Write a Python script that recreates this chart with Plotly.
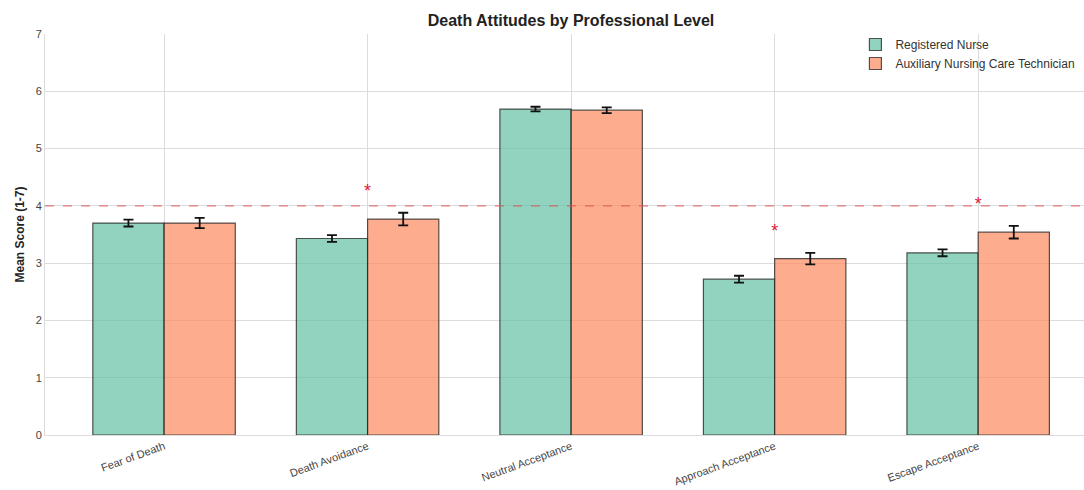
import plotly.graph_objects as go

categories = ["Fear of Death", "Death Avoidance", "Neutral Acceptance", "Approach Acceptance", "Escape Acceptance"]
rn_mean = [3.70, 3.43, 5.69, 2.72, 3.18]
rn_err = [0.06, 0.06, 0.04, 0.06, 0.06]
anct_mean = [3.70, 3.77, 5.67, 3.08, 3.54]
anct_err = [0.09, 0.11, 0.05, 0.10, 0.11]
significant = [False, True, False, True, True]
reference_level = 4
star_offset = 0.35

FONT = "Liberation Sans, Arial, sans-serif"

fig = go.Figure()
fig.add_trace(go.Bar(
    name="Registered Nurse", x=categories, y=rn_mean,
    marker=dict(color="rgba(102,194,165,0.72)", line=dict(color="rgba(30,30,30,0.75)", width=1.2)),
    error_y=dict(type="data", array=rn_err, color="#111", thickness=1.8, width=5),
))
fig.add_trace(go.Bar(
    name="Auxiliary Nursing Care Technician", x=categories, y=anct_mean,
    marker=dict(color="rgba(252,141,98,0.72)", line=dict(color="rgba(30,30,30,0.75)", width=1.2)),
    error_y=dict(type="data", array=anct_err, color="#111", thickness=1.8, width=5),
))

star_x, star_y = [], []
for c, s, m1, e1, m2, e2 in zip(categories, significant, rn_mean, rn_err, anct_mean, anct_err):
    if s:
        star_x.append(c)
        star_y.append(max(m1 + e1, m2 + e2) + star_offset)
fig.add_trace(go.Scatter(
    x=star_x, y=star_y, mode="text", text=["*"] * len(star_x),
    textfont=dict(color="#e0203a", size=18, family=FONT),
    textposition="middle center", showlegend=False, hoverinfo="skip",
))

fig.add_shape(type="line", xref="paper", x0=0, x1=1, y0=reference_level, y1=reference_level,
              line=dict(color="rgba(220,80,80,0.75)", width=1.3, dash="dash"))

fig.update_layout(
    width=1084, height=490,
    margin=dict(l=45, r=0, t=34, b=55),
    paper_bgcolor="white", plot_bgcolor="white",
    font=dict(family=FONT, color="#333"),
    barmode="group", bargap=0.3, bargroupgap=0,
    title=dict(text="<b>Death Attitudes by Professional Level</b>", x=(45 + 1097) / 2 / 1084, xanchor="center",
               y=0.958, yanchor="middle", font=dict(size=16, color="#222")),
    legend=dict(x=0.78, y=1.01, xanchor="left", yanchor="top", bgcolor="rgba(0,0,0,0)",
                font=dict(size=12, color="#333"), tracegroupgap=0, itemwidth=30),
    xaxis=dict(range=[-0.585, 4.52], showgrid=True, gridcolor="#dcdcdc", gridwidth=1,
               tickangle=-20, tickfont=dict(size=11, color="#444"), showline=True,
               linecolor="#dcdcdc", zeroline=False, ticks="", automargin=False),
    yaxis=dict(range=[0, 7], dtick=1, showgrid=True, gridcolor="#dcdcdc", gridwidth=1,
               tickfont=dict(size=11, color="#444"), zeroline=False, showline=True, linecolor="#dcdcdc",
               automargin=False,
               title=dict(text="<b>Mean Score (1-7)</b>", font=dict(size=12, color="#222"), standoff=8)),
)

fig.write_html("out.html")
